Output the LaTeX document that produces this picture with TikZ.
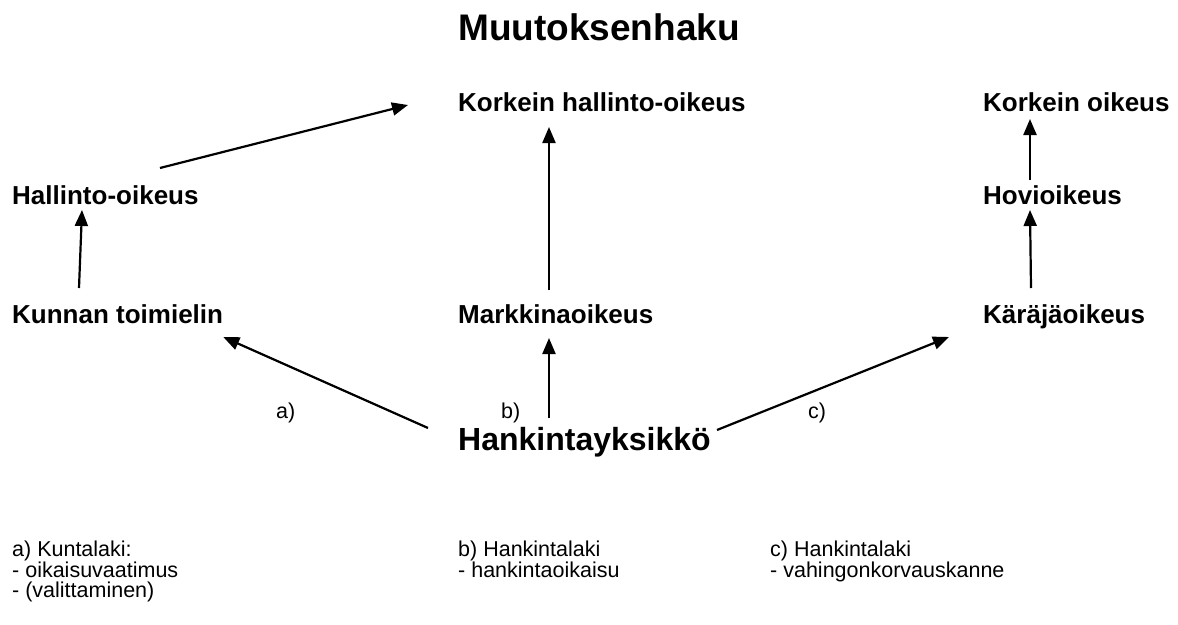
\documentclass[tikz,border=0pt]{standalone}
\usepackage{fontspec}
\setmainfont{Liberation Sans}
\usetikzlibrary{arrows.meta, positioning}

\tikzset{
  court/.style={anchor=base west, inner sep=0pt, font=\fontsize{26}{30}\selectfont\bfseries},
  note/.style={anchor=north west, inner sep=0pt, align=left, font=\fontsize{21.5}{20}\selectfont},
  tag/.style={anchor=base west, inner sep=0pt, font=\fontsize{21.5}{20}\selectfont},
  appeal/.style={line width=2.2pt, -{Triangle[length=16pt,width=13pt]}}
}

\begin{document}
\begin{tikzpicture}[x=1pt, y=-1pt]
    \useasboundingbox (0,0) rectangle (1178,624);

    \node[anchor=base west, inner sep=0pt, font=\fontsize{37}{40}\selectfont\bfseries] (title) at (458,40) {Muutoksenhaku};

    % courts
    \node[court] (kho) at (458,111) {Korkein hallinto-oikeus};
    \node[court] (ko) at (983,111) {Korkein oikeus};
    \node[court] (ho) at (12,204) {Hallinto-oikeus};
    \node[court] (hovi) at (983,204) {Hovioikeus};
    \node[court] (kunta) at (12,323) {Kunnan toimielin};
    \node[court] (mao) at (458,323) {Markkinaoikeus};
    \node[court] (kao) at (983,323) {Käräjäoikeus};
    \node[anchor=base west, inner sep=0pt, font=\fontsize{32}{36}\selectfont\bfseries] (hy) at (458,450) {Hankintayksikkö};

    % appeal routes
    \draw[appeal] ([xshift=148pt,yshift=36pt]ho.base west) -- ([xshift=-50pt,yshift=6pt]kho.base west);
    \draw[appeal] ([xshift=67pt,yshift=35pt]kunta.base west) -- ([xshift=70pt,yshift=-6pt]ho.base west);
    \draw[appeal] ([xshift=91pt,yshift=33pt]mao.base west) -- ([xshift=91pt,yshift=-16pt]kho.base west);
    \draw[appeal] ([xshift=48pt,yshift=35pt]kao.base west) -- ([xshift=47pt,yshift=-6pt]hovi.base west);
    \draw[appeal] ([xshift=47pt,yshift=24pt]hovi.base west) -- ([xshift=47pt,yshift=-8pt]ko.base west);
    \draw[appeal] ([xshift=-30pt,yshift=22pt]hy.base west) -- ([yshift=-14pt]kunta.base east);
    \draw[appeal] ([xshift=91pt,yshift=32pt]hy.base west) -- ([xshift=91pt,yshift=-15pt]mao.base west);
    \draw[appeal] ([xshift=6pt,yshift=20pt]hy.base east) -- ([xshift=-34pt,yshift=-14pt]kao.base west);

    \node[tag] (tagA) at (276,418) {a)};
    \node[tag] (tagB) at (501,418) {b)};
    \node[tag] (tagC) at (808,418) {c)};

    % footnotes
    \node[note] (noteA) at (12,541) {a) Kuntalaki:\\- oikaisuvaatimus\\- (valittaminen)};
    \node[note] (noteB) at (458,541) {b) Hankintalaki\\- hankintaoikaisu};
    \node[note] (noteC) at (770,541) {c) Hankintalaki\\- vahingonkorvauskanne};
\end{tikzpicture}
\end{document}
